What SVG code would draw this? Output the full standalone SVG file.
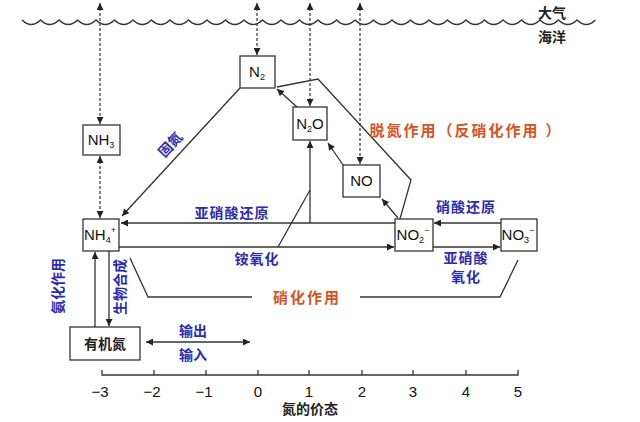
<svg xmlns="http://www.w3.org/2000/svg" width="640" height="422" viewBox="0 0 640 422">
<defs>
<marker id="ah" viewBox="0 0 10 10" refX="10" refY="5" markerWidth="9" markerHeight="7" markerUnits="userSpaceOnUse" orient="auto-start-reverse">
<path d="M0,0 L10,5 L0,10 z" fill="#222"/>
</marker>
<style>
.box{fill:#fff;stroke:#333;stroke-width:1.3}
.ln{fill:none;stroke:#333;stroke-width:1.3}
.dash{fill:none;stroke:#333;stroke-width:1.2;stroke-dasharray:3 2}
.t{font-family:"Liberation Sans",Arial,sans-serif;font-size:15px;fill:#111;text-anchor:middle}
.cn{font-family:"Liberation Sans","Noto Sans CJK SC",sans-serif;font-size:14px;text-anchor:middle;font-weight:bold}
.blue{fill:#2b2bb0}
.org{fill:#d9531e;font-size:15px;letter-spacing:2px}
.blk{fill:#222}
</style>
</defs>
<rect width="640" height="422" fill="#fff"/>

<!-- sea surface -->
<path class="ln" stroke-width="1.2" d="M22,20 q9.25,9 18.5,0 q9.25,9 18.5,0 q9.25,9 18.5,0 q9.25,9 18.5,0 q9.25,9 18.5,0 q9.25,9 18.5,0 q9.25,9 18.5,0 q9.25,9 18.5,0 q9.25,9 18.5,0 q9.25,9 18.5,0 q9.25,9 18.5,0 q9.25,9 18.5,0 q9.25,9 18.5,0 q9.25,9 18.5,0 q9.25,9 18.5,0 q9.25,9 18.5,0 q9.25,9 18.5,0 q9.25,9 18.5,0 q9.25,9 18.5,0 q9.25,9 18.5,0 q9.25,9 18.5,0 q9.25,9 18.5,0 q9.25,9 18.5,0 q9.25,9 18.5,0 q9.25,9 18.5,0 q9.25,9 18.5,0 q9.25,9 18.5,0 q9.25,9 18.5,0 q9.25,9 18.5,0 q9.25,9 18.5,0 q9.25,9 18.5,0"/>
<text class="cn blk" x="552" y="18">大气</text>
<text class="cn blk" x="552" y="42">海洋</text>

<g id="connectors">
<!-- dashed exchanges -->
<line class="dash" x1="100" y1="3" x2="100" y2="124" marker-start="url(#ah)" marker-end="url(#ah)"/>
<line class="dash" x1="100" y1="156" x2="100" y2="218" marker-start="url(#ah)" marker-end="url(#ah)"/>
<line class="dash" x1="257" y1="3" x2="257" y2="55" marker-start="url(#ah)" marker-end="url(#ah)"/>
<line class="dash" x1="310" y1="3" x2="310" y2="106" marker-start="url(#ah)" marker-end="url(#ah)"/>
<line class="dash" x1="360" y1="3" x2="360" y2="164" marker-start="url(#ah)" marker-end="url(#ah)"/>
<!-- fixation -->
<line class="ln" x1="240" y1="88" x2="122" y2="216" marker-end="url(#ah)"/>
<!-- nitrite reduction -->
<line class="ln" x1="395" y1="223" x2="121" y2="223" marker-end="url(#ah)"/>
<line class="ln" x1="310" y1="223" x2="310" y2="141" marker-end="url(#ah)"/>
<!-- ammonium oxidation -->
<line class="ln" x1="119" y1="247" x2="394" y2="247" marker-end="url(#ah)"/>
<line class="ln" x1="278" y1="247" x2="310" y2="190"/>
<!-- denitrification -->
<line class="ln" x1="297" y1="107" x2="277" y2="89" marker-end="url(#ah)"/>
<line class="ln" x1="343" y1="165" x2="328" y2="143" marker-end="url(#ah)"/>
<line class="ln" x1="398" y1="218" x2="382" y2="199" marker-end="url(#ah)"/>
<polyline class="ln" points="400,219 411,180 318,79 277,87"/>
<!-- nitrate reduction / nitrite oxidation -->
<line class="ln" x1="501" y1="223" x2="434" y2="223" marker-end="url(#ah)"/>
<line class="ln" x1="433" y1="247" x2="500" y2="247" marker-end="url(#ah)"/>
<!-- nitrification bracket -->
<polyline class="ln" points="130,258 148,297 252,297"/>
<polyline class="ln" points="360,297 500,297 518,260"/>
<!-- ammonification / assimilation -->
<line class="ln" x1="95" y1="327" x2="95" y2="252" marker-end="url(#ah)"/>
<line class="ln" x1="109" y1="251" x2="109" y2="326" marker-end="url(#ah)"/>
<!-- export / import -->
<line class="ln" x1="146" y1="342" x2="250" y2="342" marker-start="url(#ah)" marker-end="url(#ah)"/>
</g>

<g id="node-N2"><rect class="box" x="240" y="56" width="35" height="32"/><text class="t" x="257" y="77">N<tspan font-size="9" dy="3">2</tspan></text></g>
<g id="node-NH3"><rect class="box" x="83" y="125" width="37" height="30"/><text class="t" x="101" y="145">NH<tspan font-size="9" dy="3">3</tspan></text></g>
<g id="node-N2O"><rect class="box" x="293" y="107" width="34" height="33"/><text class="t" x="310" y="129">N<tspan font-size="9" dy="3">2</tspan><tspan dy="-3">O</tspan></text></g>
<g id="node-NO"><rect class="box" x="343" y="165" width="37" height="32"/><text class="t" x="361.5" y="186">NO</text></g>
<g id="node-NH4"><rect class="box" x="83" y="219" width="36" height="32"/><text class="t" x="100" y="240">NH<tspan font-size="9" dy="3">4</tspan><tspan font-size="9" dy="-10">+</tspan></text></g>
<g id="node-NO2"><rect class="box" x="395" y="219" width="38" height="32"/><text class="t" x="413" y="240">NO<tspan font-size="9" dy="3">2</tspan><tspan font-size="9" dy="-10">−</tspan></text></g>
<g id="node-NO3"><rect class="box" x="501" y="219" width="36" height="32"/><text class="t" x="518" y="240">NO<tspan font-size="9" dy="3">3</tspan><tspan font-size="9" dy="-10">−</tspan></text></g>
<g id="node-org"><rect class="box" x="70" y="327" width="70" height="33"/><text class="cn blk" x="105" y="349" font-size="15" font-weight="normal">有机氮</text></g>

<!-- labels -->
<text class="cn blue" transform="translate(174,148) rotate(-47)" font-size="13">固氮</text>
<text class="cn blue" x="232" y="218" letter-spacing="1">亚硝酸还原</text>
<text class="cn blue" x="257" y="264" letter-spacing="1">铵氧化</text>
<text class="cn blue" x="466" y="212" letter-spacing="1">硝酸还原</text>
<text class="cn blue" x="466" y="263" letter-spacing="1">亚硝酸</text>
<text class="cn blue" x="466" y="282" letter-spacing="1">氧化</text>
<text class="cn blue" x="193" y="336">输出</text>
<text class="cn blue" x="193" y="360">输入</text>
<text class="cn blue" transform="translate(63,286) rotate(-90)">氨化作用</text>
<text class="cn blue" transform="translate(125,287) rotate(-90)">生物合成</text>
<text class="cn org" x="307" y="303">硝化作用</text>
<text class="cn org" x="466" y="136">脱氮作用（反硝化作用 ）</text>

<!-- axis -->
<g id="axis">
<path class="ln" d="M102,370 V375 H518 V370 M154,375 V370 M206,375 V370 M258,375 V370 M309,375 V370 M362,375 V370 M413,375 V370 M466,375 V370"/>
<g class="t" font-size="13">
<text x="100" y="397">−3</text><text x="152" y="397">−2</text><text x="204" y="397">−1</text><text x="258" y="397">0</text><text x="309" y="397">1</text><text x="362" y="397">2</text><text x="413" y="397">3</text><text x="466" y="397">4</text><text x="518" y="397">5</text>
</g>
<text class="cn blk" x="310" y="414" font-weight="normal">氮的价态</text>
</g>
</svg>
